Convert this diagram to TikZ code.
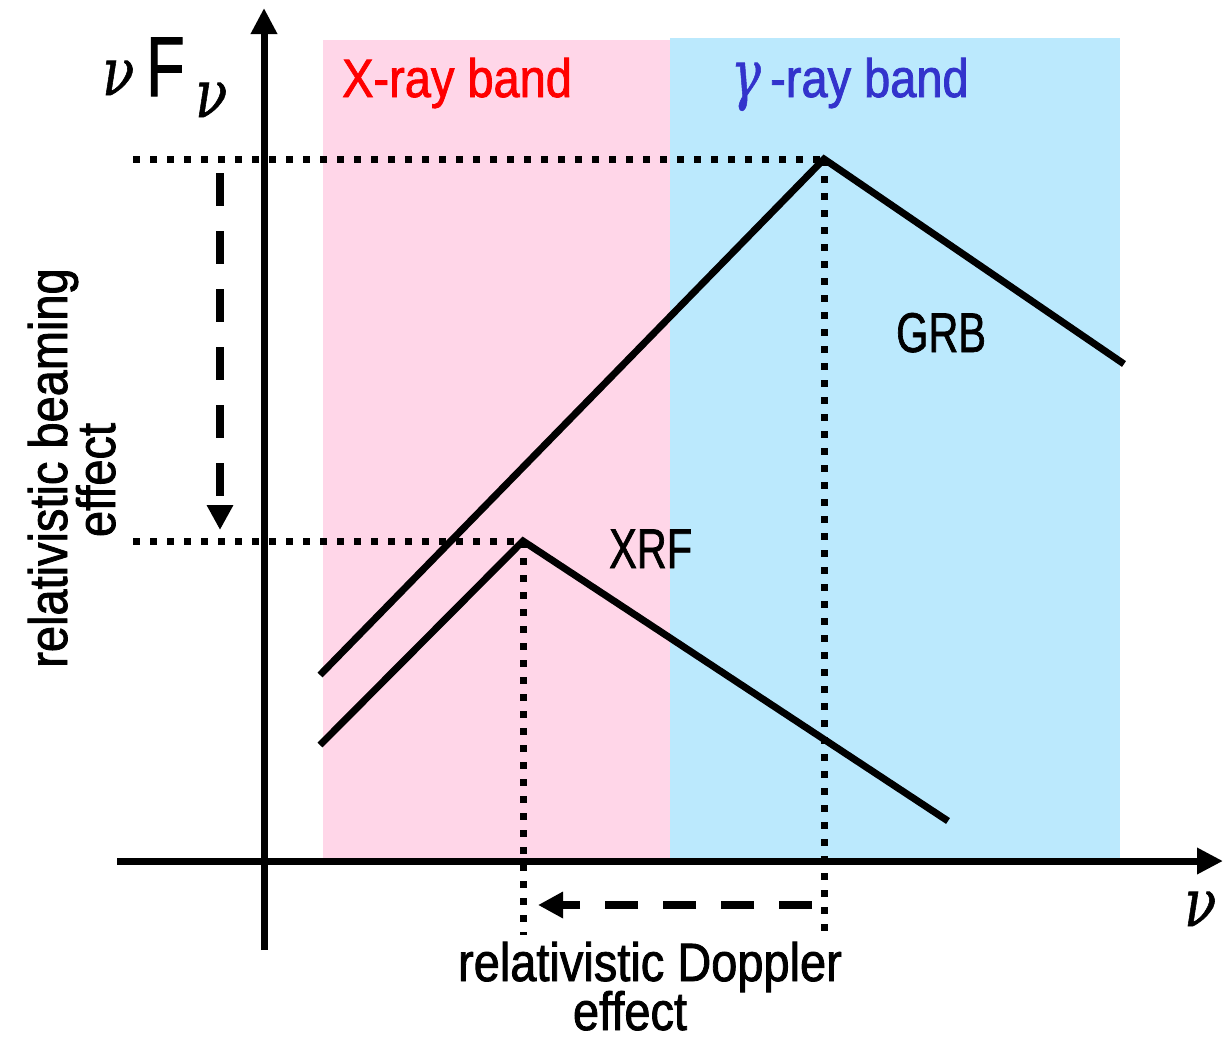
\documentclass[tikz,border=0pt]{standalone}
\usepackage{fontspec}
\setmainfont{Liberation Sans}[FakeStretch=0.87,FakeBold=1.5]
\newfontfamily\narrowfont{Liberation Sans}[FakeStretch=0.74,FakeBold=1.2]
\newfontfamily\greekfont{DejaVu Serif}[FakeBold=1]
\usetikzlibrary{arrows.meta}
\definecolor{xpink}{RGB}{255,214,232}
\definecolor{gbluebg}{RGB}{187,233,253}
\definecolor{gbluetxt}{RGB}{51,51,204}
\begin{document}
\begin{tikzpicture}[x=1pt,y=-1pt,
  axis/.style={line width=7pt,-{Triangle[length=26pt,width=25pt]}},
  spec/.style={line width=7pt,line join=miter},
  dotline/.style={line width=7pt,dash pattern=on 7pt off 10pt},
  dashline/.style={line width=8pt,dash pattern=on 33pt off 25pt,-{Triangle[length=25pt,width=25pt]}},
  lbl/.style={inner sep=0pt,font=\fontsize{54}{60}\selectfont},
  nlbl/.style={inner sep=0pt,font=\narrowfont\fontsize{56}{60}\selectfont},
  grk/.style={inner sep=0pt,anchor=base west,font=\greekfont\itshape\fontsize{66}{66}\selectfont}]
\useasboundingbox (0,0) rectangle (1223,1039);
% bands
\fill[xpink] (323,40) rectangle (670,858);
\fill[gbluebg] (670,38) rectangle (1120,858);
% key points
\coordinate (gs) at (320,675);
\coordinate (gp) at (824,159);
\coordinate (ge) at (1124,364);
\coordinate (xs) at (320,745);
\coordinate (xp) at (523,541);
\coordinate (xe) at (948,821);
\coordinate (gl) at (133,159);
\coordinate (xl) at (133,541);
\coordinate (gb) at (824,935);
\coordinate (xb) at (523,935);
\coordinate (va) at (220,173);
\coordinate (vb) at (220,530);
\coordinate (ha) at (812,905);
\coordinate (hb) at (538,905);
\coordinate (ya) at (264,950);
\coordinate (yb) at (264,8);
\coordinate (xa) at (117,861);
\coordinate (xz) at (1223,861);
% dotted guides
\draw[dotline] (gl) -- (gp);
\draw[dotline] (xl) -- (xp);
\draw[dotline] (gp) -- (gb);
\draw[dotline] (xp) -- (xb);
% spectra
\draw[spec] (gs) -- (gp) -- (ge);
\draw[spec] (xs) -- (xp) -- (xe);
% axes
\draw[axis] (ya) -- (yb);
\draw[axis] (xa) -- (xz);
% dashed arrows
\draw[dashline] (va) -- (vb);
\draw[dashline] (ha) -- (hb);
% labels
\node[grk] (nu1) at (102,95) {\scalebox{0.8}[1]{ν}};
\node[anchor=base west,inner sep=0pt] (F) at (146,96) {\narrowfont\fontsize{85}{85}\selectfont F};
\node[grk] (nu2) at (195,117) {\scalebox{0.8}[1]{ν}};
\node[grk] (nu3) at (1184,926) {\scalebox{0.8}[1]{ν}};
\node[lbl,anchor=base west,text=red] (xband) at (342,97) {X-ray band};
\node[grk,text=gbluetxt] (gam) at (731,97) {\scalebox{0.75}[1]{γ}};
\node[lbl,anchor=base west,text=gbluetxt] (gband) at (770,97) {-ray band};
\node[nlbl,anchor=base west] (grb) at (896,352) {GRB};
\node[nlbl,anchor=base west] (xrf) at (609,568) {XRF};
\node[lbl,anchor=base] (dop1) at (650,981) {relativistic Doppler};
\node[lbl,anchor=base] (dop2) at (630,1030) {effect};
\node[lbl,anchor=base,rotate=90] (beam1) at (67,468) {relativistic beaming};
\node[lbl,anchor=base,rotate=90] (beam2) at (115,480) {effect};
\end{tikzpicture}
\end{document}
